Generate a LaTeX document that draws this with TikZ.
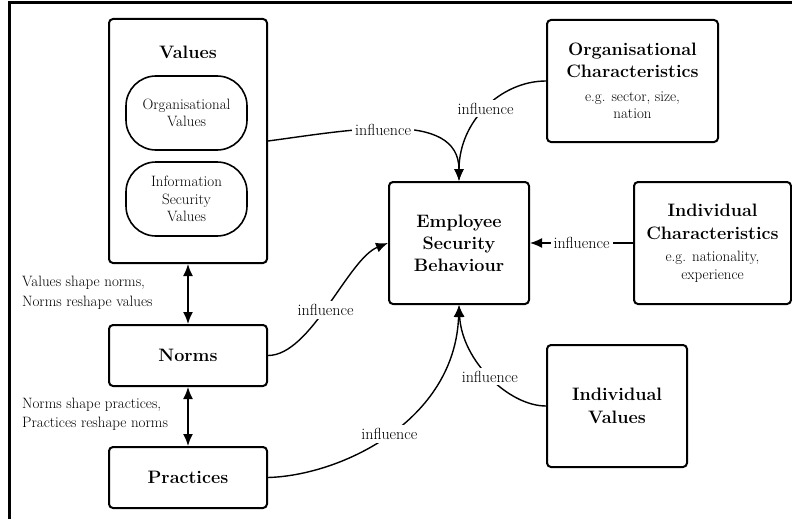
\documentclass[tikz,border=0pt]{standalone}
\usepackage{tikz}
\usetikzlibrary{arrows.meta}
\newcommand{\boxtitle}[1]{{\fontsize{18}{22}\selectfont\bfseries #1}}
\tikzstyle{factor} = [rectangle, rounded corners=4pt, minimum width=140pt, minimum height=122pt, text centered, align=center, draw=black, line width=2pt, font=\fontsize{15}{17.5}\selectfont]
\tikzstyle{heading} = [factor, font=\fontsize{18}{23}\selectfont\bfseries]
\tikzstyle{stage} = [heading, minimum width=158pt, minimum height=61pt]
\tikzstyle{subvalue} = [rectangle, rounded corners=30pt, minimum width=121pt, minimum height=74pt, align=center, draw=black, line width=1.6pt, font=\fontsize{15}{17.5}\selectfont]
\tikzstyle{arrow} = [line width=1.4pt, -{Latex[length=12pt,width=10pt]}]
\tikzstyle{twoway} = [line width=1.6pt, {Latex[length=12pt,width=10pt]}-{Latex[length=12pt,width=10pt]}]
\tikzstyle{effect} = [fill=white, inner sep=3pt, font=\fontsize{16}{18}\selectfont]
\tikzstyle{note} = [align=left, inner sep=0pt, anchor=west, font=\fontsize{15}{19.5}\selectfont]

\begin{document}
\begin{tikzpicture}[x=1pt, y=-1pt]
        \useasboundingbox (0,0) rectangle (792,519);
        \draw [line width=3pt] (9,519) -- (9,3) -- (792,3);

        % value side
        \node (values) [stage, minimum height=244pt] at (188,141) {};
        \node (valtitle) [font=\fontsize{18}{23}\selectfont\bfseries] at (188,52) {Values};
        \node (orgval) [subvalue] at (186.5,113) {Organisational\\Values};
        \node (infoval) [subvalue] at (186.5,199) {Information\\Security\\Values};
        \node (norms) [stage] at (188,355.5) {Norms};
        \node (practices) [stage] at (188,477.5) {Practices};

        % behaviour and other factors
        \node (esb) [heading, font=\fontsize{18}{22}\selectfont\bfseries] at (459,243) {Employee\\Security\\Behaviour};
        \node (orgchar) [factor, minimum width=171pt] at (632.5,81) {\boxtitle{Organisational}\\[5pt]\boxtitle{Characteristics}\\[6pt]e.g. sector, size,\\nation};
        \node (indchar) [factor, minimum width=157pt] at (712.5,243) {\boxtitle{Individual}\\[5pt]\boxtitle{Characteristics}\\[5pt]e.g. nationality,\\experience};
        \node (indval) [heading] at (617,406) {Individual\\Values};

        \node (vnnote) [note] at (22,293) {Values shape norms,\\Norms reshape values};
        \node (npnote) [note] at (22,414.5) {Norms shape practices,\\Practices reshape norms};

        \draw [twoway] (values) -- (norms);
        \draw [twoway] (norms) -- (practices);

        \draw [arrow] (values.east) .. controls +(83,-11) and +(0,-72) .. node[effect, pos=0.45] {influence} (esb.north);
        \draw [arrow] (orgchar.west) .. controls +(-45,0) and +(0,-60) .. node[effect] {influence} (esb.north);
        \draw [arrow] (indchar.west) -- node[effect] {influence} (esb.east);
        \draw [arrow] (norms.east) .. controls +(43,0) and +(-40,16) .. node[effect, pos=0.47] {influence} (esb.west);
        \draw [arrow] (practices.east) .. controls +(73,-2) and +(-4,116) .. node[effect] {influence} (esb.south);
        \draw [arrow] (indval.west) .. controls +(-37,0) and +(3,56) .. node[effect] {influence} (esb.south);
    \end{tikzpicture}
\end{document}
